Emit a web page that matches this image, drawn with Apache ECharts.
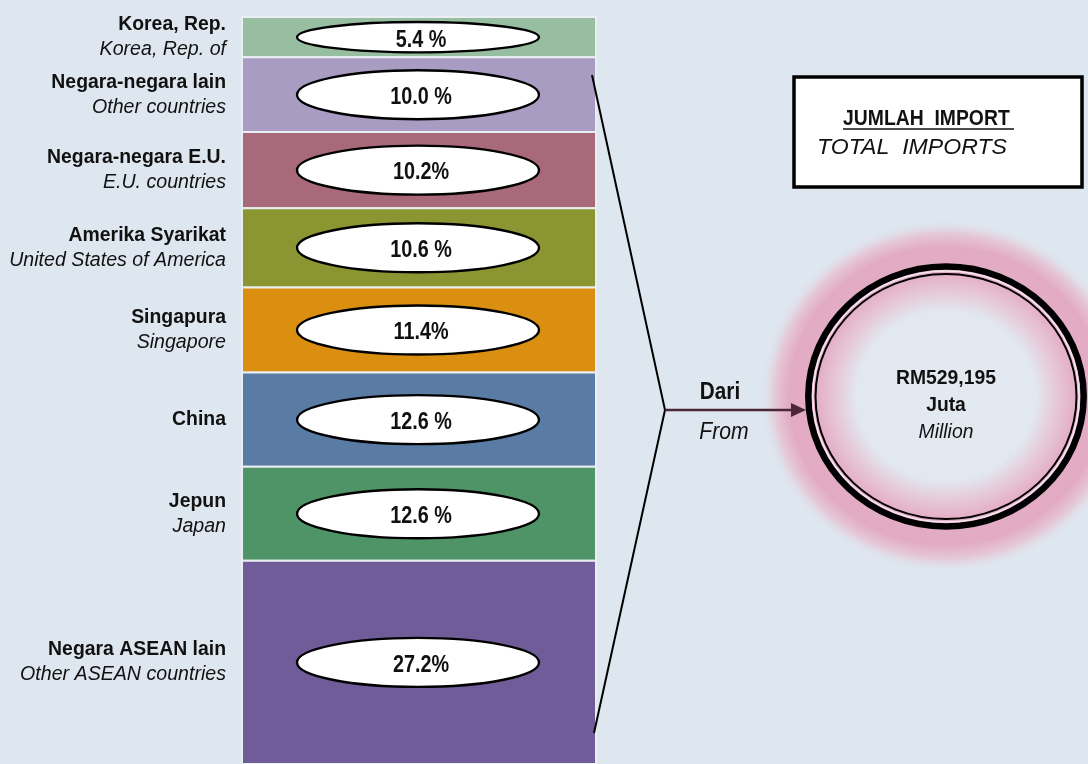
<!DOCTYPE html>
<html>
<head>
<meta charset="utf-8">
<script src="https://cdn.jsdelivr.net/npm/echarts@6/dist/echarts.min.js"></script>
<style>
html,body{margin:0;padding:0;background:#dee6ef;}
#c{width:1088px;height:764px;}
</style>
</head>
<body>
<div id="c"></div>
<script>
// ---- data ----
const namesMs = ['Korea, Rep.', 'Negara-negara lain', 'Negara-negara E.U.', 'Amerika Syarikat', 'Singapura', 'China', 'Jepun', 'Negara ASEAN lain'];
const namesEn = ['Korea, Rep. of', 'Other countries', 'E.U. countries', 'United States of America', 'Singapore', '', 'Japan', 'Other ASEAN countries'];
const shares = [5.4, 10.0, 10.2, 10.6, 11.4, 12.6, 12.6, 27.2];
const pctSep = [' ', ' ', '', ' ', '', ' ', ' ', ''];
const segColors = ['#97bea0', '#a89cc3', '#a86a7a', '#8b9532', '#da8f10', '#5a7ca4', '#4f9467', '#6f5c98'];
const totalMs = 'RM529,195';
const unitMs = 'Juta';
const unitEn = 'Million';
const titleMs = 'JUMLAH  IMPORT';
const titleEn = 'TOTAL  IMPORTS';
const fromMs = 'Dari';
const fromEn = 'From';

const FONT = "'Liberation Sans', Arial, sans-serif";

let acc = 0;
const segData = shares.map((v, i) => {
  const s = acc; acc += v;
  return [s, acc, i, v];
});

function txt(text, x, y, o) {
  o = o || {};
  return {
    type: 'text', z: o.z || 10, scaleX: o.sx || 1, originX: x, originY: y,
    x: 0, y: 0,
    style: {text: text, x: x, y: y, align: o.align || 'center', verticalAlign: 'middle',
      fontFamily: FONT, fontWeight: o.bold ? 'bold' : 'normal', fontStyle: o.italic ? 'italic' : 'normal',
      fontSize: o.size || 20, fill: '#111'}
  };
}

const chart = echarts.init(document.getElementById('c'), null, {renderer: 'canvas'});

const option = {
  backgroundColor: '#dee6ef',
  animation: false,
  grid: {left: 242, top: 17, width: 354, height: 750},
  xAxis: {type: 'value', min: 0, max: 1, show: false},
  yAxis: {type: 'value', min: 0, max: 100, inverse: true, show: false},
  series: [{
    type: 'custom',
    data: segData,
    clip: false,
    renderItem: function (params, api) {
      const s = api.value(0), e = api.value(1), i = api.value(2), v = api.value(3);
      const p0 = api.coord([0, s]), p1 = api.coord([1, e]);
      const x = p0[0], y = p0[1], w = p1[0] - p0[0], h = p1[1] - p0[1];
      const cx = x + w / 2 - 1, cy = y + h / 2;
      const ry = Math.min(24.5, h / 2 - 5);
      const children = [
        {type: 'rect', shape: {x: x, y: y, width: w, height: h},
         style: {fill: segColors[i], stroke: '#e9eef2', lineWidth: 2}},
        {type: 'ellipse', shape: {cx: cx, cy: cy, rx: 121, ry: ry},
         style: {fill: '#ffffff', stroke: '#000000', lineWidth: 2.4}},
        txt(v.toFixed(1) + pctSep[i] + '%', cx + 3, cy + 3, {bold: true, size: 23, sx: 0.86})
      ];
      const lx = x - 16;
      if (namesEn[i]) {
        children.push(txt(namesMs[i], lx, cy - 12.5, {align: 'right', bold: true, size: 20, sx: 0.97}));
        children.push(txt(namesEn[i], lx, cy + 12.5, {align: 'right', italic: true, size: 20, sx: 0.98}));
      } else {
        children.push(txt(namesMs[i], lx, cy, {align: 'right', bold: true, size: 20, sx: 0.97}));
      }
      return {type: 'group', children: children};
    }
  }],
  graphic: [
    // bracket
    {type: 'polyline', shape: {points: [[592, 75], [665, 410], [594, 733]]}, style: {stroke: '#000', lineWidth: 2, fill: null}, z: 10},
    // arrow
    {type: 'line', shape: {x1: 665, y1: 410, x2: 794, y2: 410}, style: {stroke: '#4a2636', lineWidth: 2.5}, z: 10},
    {type: 'polygon', shape: {points: [[791, 403], [806, 410], [791, 417]]}, style: {fill: '#4a2636'}, z: 10},
    txt(fromMs, 720, 393, {bold: true, size: 23, sx: 0.9}),
    txt(fromEn, 724, 433, {italic: true, size: 23, sx: 0.92}),
    // box
    {type: 'rect', shape: {x: 794, y: 77, width: 288, height: 110}, style: {fill: '#ffffff', stroke: '#000', lineWidth: 3.5}, z: 10},
    txt(titleMs, 843, 119, {align: 'left', bold: true, size: 22, sx: 0.88, z: 11}),
    {type: 'line', shape: {x1: 843, y1: 129, x2: 1014, y2: 129}, style: {stroke: '#111', lineWidth: 1.6}, z: 11},
    txt(titleEn, 817, 148, {align: 'left', italic: true, size: 22, sx: 1.05, z: 11}),
    // glow
    {type: 'circle', shape: {cx: 946, cy: 396, r: 186}, scaleY: 0.95, originX: 946, originY: 396,
     style: {fill: new echarts.graphic.RadialGradient(0.5, 0.5, 0.5, [
       {offset: 0, color: '#e3e9f1'},
       {offset: 0.48, color: '#e2e8f0'},
       {offset: 0.6, color: '#e6c6d7'},
       {offset: 0.7, color: '#e4adc6'},
       {offset: 0.84, color: '#e2aac3'},
       {offset: 0.92, color: '#e5c8d7'},
       {offset: 1, color: 'rgba(222,230,239,0)'}
     ])}, z: 5},
    // rings
    {type: 'ellipse', shape: {cx: 946, cy: 396.5, rx: 137.7, ry: 130}, style: {fill: null, stroke: '#000', lineWidth: 6.5}, z: 8},
    {type: 'ellipse', shape: {cx: 946, cy: 396.5, rx: 130.5, ry: 122.5}, style: {fill: null, stroke: '#000', lineWidth: 2}, z: 8},
    {type: 'ellipse', shape: {cx: 946, cy: 396.5, rx: 133.2, ry: 125.5}, style: {fill: null, stroke: '#f3e6ee', lineWidth: 1.6}, z: 8},
    txt(totalMs, 946, 378, {bold: true, size: 21, sx: 0.92, z: 9}),
    txt(unitMs, 946, 405, {bold: true, size: 21, sx: 0.92, z: 9}),
    txt(unitEn, 946, 432, {italic: true, size: 21, sx: 0.92, z: 9})
  ]
};
chart.setOption(option);
</script>
</body>
</html>
